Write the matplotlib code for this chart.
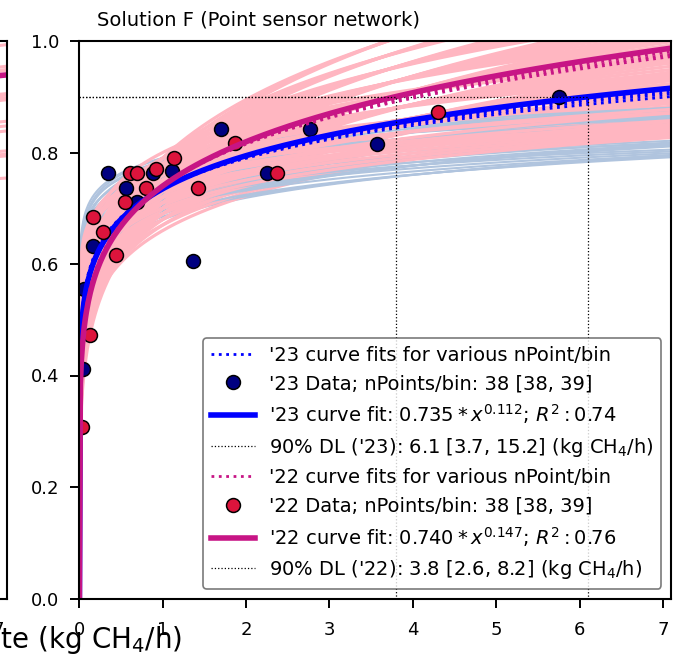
import matplotlib
matplotlib.use("Agg")
import matplotlib.pyplot as plt
import numpy as np

# '23 binned detection data
x23 = [0.043, 0.06, 0.163, 0.343, 0.559, 0.691, 0.883, 1.111, 1.363, 1.70, 2.25, 2.77, 3.57, 5.75]
y23 = [0.412, 0.555, 0.632, 0.763, 0.736, 0.711, 0.763, 0.766, 0.605, 0.842, 0.763, 0.842, 0.815, 0.900]
# '22 binned detection data
x22 = [0.031, 0.127, 0.163, 0.283, 0.439, 0.547, 0.607, 0.691, 0.799, 0.919, 1.135, 1.423, 1.867, 2.37, 4.30]
y22 = [0.308, 0.473, 0.684, 0.658, 0.616, 0.711, 0.763, 0.763, 0.736, 0.770, 0.790, 0.736, 0.817, 0.763, 0.873]

# fitted power laws a * x^b
fit23 = (0.735, 0.112)
fit22 = (0.740, 0.147)
dl23, dl22 = 6.1, 3.8

# fits for other nPoints/bin
var23_a = [0.735, 0.735, 0.735]
var23_b = [0.1086, 0.1064, 0.1035]
var22_a = [0.740, 0.740, 0.740]
var22_b = [0.1438, 0.1412, 0.1391]

# bootstrap fits ('23)
boot23_a = [0.68, 0.685, 0.69, 0.69, 0.695, 0.70, 0.70, 0.705, 0.71, 0.71, 0.715, 0.72, 0.72, 0.725,
            0.73, 0.73, 0.735, 0.74, 0.74, 0.745, 0.75, 0.75, 0.755, 0.76, 0.76, 0.765, 0.77, 0.77,
            0.775, 0.78, 0.78, 0.785, 0.79, 0.79, 0.72, 0.74, 0.76, 0.70]
boot23_b = [0.08, 0.075, 0.07, 0.085, 0.08, 0.065, 0.075, 0.085, 0.06, 0.07, 0.08, 0.055, 0.065, 0.075,
            0.05, 0.06, 0.07, 0.05, 0.06, 0.07, 0.05, 0.06, 0.065, 0.05, 0.06, 0.055, 0.05, 0.06,
            0.055, 0.05, 0.06, 0.055, 0.05, 0.055, 0.085, 0.08, 0.075, 0.09]
# bootstrap fits ('22)
boot22_a = [0.66, 0.67, 0.67, 0.68, 0.68, 0.68, 0.69, 0.69, 0.69, 0.69,
            0.70, 0.70, 0.70, 0.70, 0.70, 0.70, 0.71, 0.71, 0.71, 0.71, 0.71,
            0.72, 0.72, 0.72, 0.72, 0.72, 0.72, 0.73, 0.73, 0.73, 0.73, 0.73,
            0.74, 0.74, 0.74, 0.74, 0.74, 0.74, 0.75, 0.75, 0.75, 0.75, 0.75,
            0.76, 0.76, 0.76, 0.76, 0.76, 0.77, 0.77, 0.77, 0.77, 0.78, 0.78, 0.78, 0.78,
            0.79, 0.79, 0.79, 0.80, 0.79, 0.79, 0.78, 0.78, 0.77, 0.76, 0.77,
            0.70, 0.71, 0.72, 0.73, 0.74, 0.75, 0.76, 0.72, 0.74, 0.76, 0.73, 0.75, 0.77, 0.78,
            0.75, 0.71]
boot22_b = [0.13, 0.12, 0.14, 0.11, 0.13, 0.15, 0.10, 0.12, 0.14, 0.16,
            0.09, 0.11, 0.13, 0.15, 0.17, 0.19, 0.10, 0.12, 0.14, 0.16, 0.18,
            0.09, 0.11, 0.13, 0.15, 0.17, 0.19, 0.10, 0.12, 0.14, 0.16, 0.18,
            0.09, 0.11, 0.13, 0.15, 0.17, 0.19, 0.10, 0.12, 0.14, 0.16, 0.18,
            0.09, 0.11, 0.13, 0.15, 0.17, 0.10, 0.12, 0.14, 0.16, 0.09, 0.11, 0.13, 0.15,
            0.10, 0.12, 0.14, 0.095, 0.16, 0.18, 0.17, 0.19, 0.18, 0.19, 0.20,
            0.085, 0.08, 0.075, 0.07, 0.065, 0.06, 0.055, 0.085, 0.075, 0.07, 0.09, 0.08, 0.075, 0.07,
            0.09, 0.095]

# neighbouring panel (only its right edge is visible)
left_a = [0.62, 0.63, 0.64, 0.65, 0.66, 0.67, 0.68, 0.69, 0.70, 0.71, 0.72, 0.73, 0.74, 0.75, 0.77, 0.79]
left_b = [0.10, 0.12, 0.11, 0.13, 0.10, 0.12, 0.14, 0.11, 0.13, 0.12, 0.14, 0.11, 0.13, 0.12, 0.13, 0.14]
left_fit = (0.76, 0.108)

xx = np.linspace(0, 7.1, 600)


def power(a, b):
    return a * xx ** b


fig = plt.figure(figsize=(6.87, 6.6), dpi=100)
W, H = 687, 660
pos = [79.4 / W, (H - 598.5) / H, 591.8 / W, 557.5 / H]
ax = fig.add_axes(pos)
axL = fig.add_axes([(6.7 - 591.8) / W, pos[1], pos[2], pos[3]])

# left neighbour panel
for a, b in zip(left_a, left_b):
    axL.plot(xx, power(a, b), color='lightpink', lw=2.2)
axL.plot(xx, power(*left_fit), color='mediumvioletred', lw=4)
axL.set_xlim(0, 7.1)
axL.set_ylim(0, 1)

# bootstrap curves, drawn interleaved
for i in range(max(len(boot22_a), len(boot23_a))):
    if i < len(boot23_a):
        ax.plot(xx, power(boot23_a[i], boot23_b[i]), color='lightsteelblue', lw=1.5)
    if i < len(boot22_a):
        ax.plot(xx, power(boot22_a[i], boot22_b[i]), color='lightpink', lw=2.3)

# '23
for i, (a, b) in enumerate(zip(var23_a, var23_b)):
    ax.plot(xx, power(a, b), ':', color='blue', lw=2,
            label="'23 curve fits for various nPoint/bin" if i == 0 else None)
ax.plot(x23, y23, 'o', color='navy', mec='black', mew=1.1, ms=10,
        label="'23 Data; nPoints/bin: 38 [38, 39]")
ax.plot(xx, power(*fit23), color='blue', lw=4,
        label=r"'23 curve fit: $0.735*x^{0.112}$; $R^2: 0.74$")
ax.plot([0, dl23, dl23], [0.9, 0.9, 0], ':', color='black', lw=0.9,
        label="90% DL ('23): 6.1 [3.7, 15.2] (kg CH$_4$/h)")

# '22
for i, (a, b) in enumerate(zip(var22_a, var22_b)):
    ax.plot(xx, power(a, b), ':', color='mediumvioletred', lw=2,
            label="'22 curve fits for various nPoint/bin" if i == 0 else None)
ax.plot(x22, y22, 'o', color='crimson', mec='black', mew=1.1, ms=10,
        label="'22 Data; nPoints/bin: 38 [38, 39]")
ax.plot(xx, power(*fit22), color='mediumvioletred', lw=4,
        label=r"'22 curve fit: $0.740*x^{0.147}$; $R^2: 0.76$")
ax.plot([0, dl22, dl22], [0.9, 0.9, 0], ':', color='black', lw=0.9,
        label="90% DL ('22): 3.8 [2.6, 8.2] (kg CH$_4$/h)")

ax.set_xlim(0, 7.1)
ax.set_ylim(0, 1)
ax.set_xticks(range(8))
ax.set_yticks([0, 0.2, 0.4, 0.6, 0.8, 1.0])

for a_ in (ax, axL):
    a_.tick_params(labelsize=13, length=6.5, width=1.4, pad=9.5)
    for s in a_.spines.values():
        s.set_linewidth(1.5)
ax.tick_params(axis='y', pad=8)

leg = ax.legend(loc='lower right', fontsize=14, handlelength=2.3, handletextpad=0.7,
                labelspacing=0.48, borderpad=0.4)
leg.get_frame().set_edgecolor('0.35')
leg.get_frame().set_linewidth(1.2)

fig.text(97 / W, (H - 25) / H, 'Solution F (Point sensor network)', fontsize=14, va='baseline', ha='left')
fig.text(182 / W, (H - 648) / H, 'Release rate (kg CH$_4$/h)', fontsize=20, va='baseline', ha='right')

fig.savefig('out.png', dpi=100)
